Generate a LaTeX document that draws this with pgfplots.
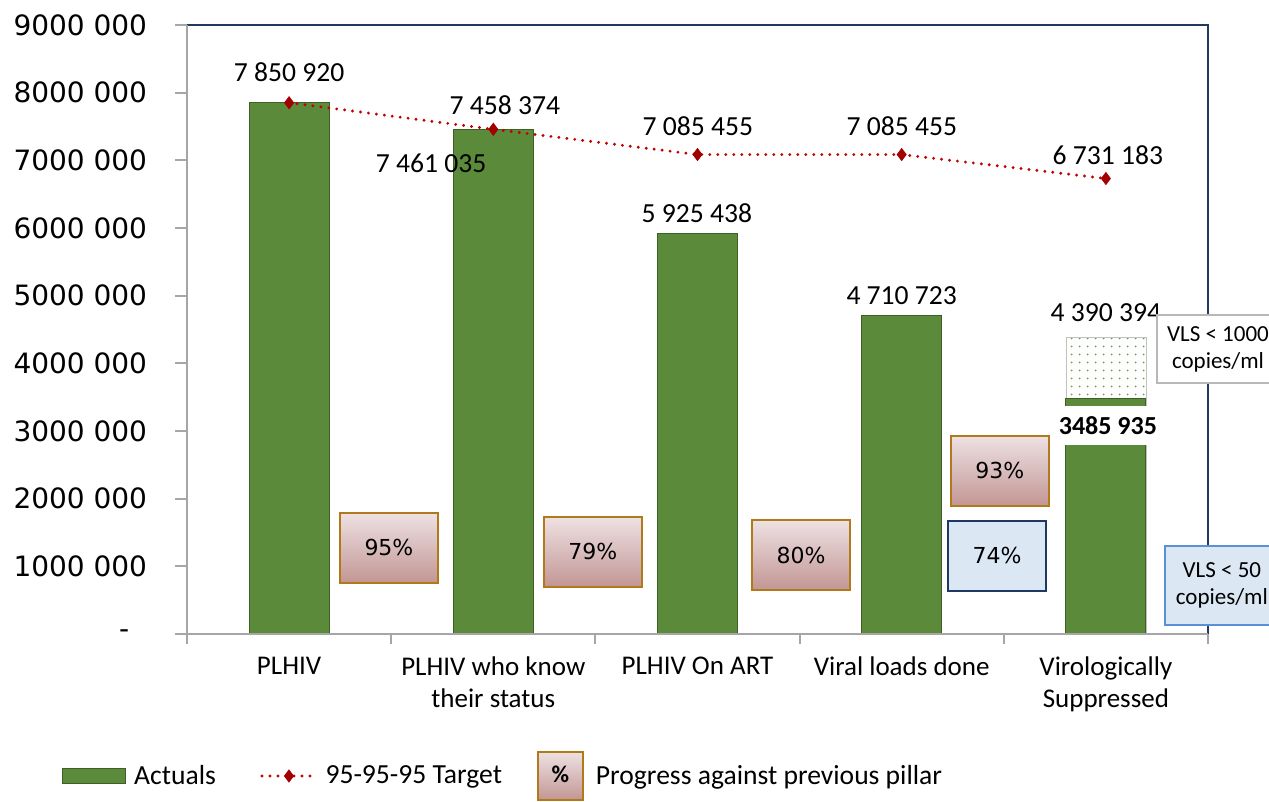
\documentclass[border=0pt]{standalone}
\usepackage{fontspec}
\setmainfont{Carlito}
\newfontfamily\dejavu{DejaVu Sans}
\usepackage{pgfplots}
\pgfplotsset{compat=1.18}
\usetikzlibrary{patterns.meta}

\definecolor{bargreen}{RGB}{92,138,59}
\definecolor{bardark}{RGB}{62,96,38}
\definecolor{dotgreen}{RGB}{106,160,70}
\definecolor{tgtred}{RGB}{192,0,0}
\definecolor{frameblue}{RGB}{31,56,100}
\definecolor{axgray}{RGB}{166,166,166}
\definecolor{boxgold}{RGB}{176,122,26}
\definecolor{boxtop}{RGB}{238,225,227}
\definecolor{boxbot}{RGB}{194,150,148}
\definecolor{lblue}{RGB}{220,231,244}
\definecolor{navyedge}{RGB}{32,56,100}
\definecolor{vlsblue}{RGB}{91,143,214}

\tikzset{
  pct/.style={draw=boxgold, line width=1pt, top color=boxtop, bottom color=boxbot,
    minimum width=49pt, minimum height=35pt, inner sep=0pt,
    font=\dejavu\fontsize{11}{13}\selectfont},
  pctblue/.style={draw=navyedge, line width=1pt, fill=lblue,
    minimum width=49pt, minimum height=35pt, inner sep=0pt,
    font=\dejavu\fontsize{11}{13}\selectfont},
  lab/.style={font=\fontsize{13.8}{16}\selectfont, inner sep=0pt},
  vls/.style={line width=1pt, align=center, inner sep=0pt,
    font=\fontsize{11.5}{13.5}\selectfont},
  spacer/.style={draw=none, fill=none},
}

\begin{document}
\begin{tikzpicture}
\begin{axis}[
    at={(0,0)}, anchor=south west,
    scale only axis, width=510.5pt, height=304.5pt,
    xmin=-0.5, xmax=4.5, ymin=0, ymax=9000000,
    clip=false,
    axis line style={draw=none},
    xtick={0,...,4},
    xticklabels={PLHIV, {PLHIV who know\\their status}, PLHIV On ART,
      Viral loads done, {Virologically\\Suppressed}},
    minor xtick={-0.5,0.5,...,4.5},
    ytick={0,1000000,...,9000000},
    yticklabels={-\hphantom{0}, 1000 000, 2000 000, 3000 000, 4000 000,
      5000 000, 6000 000, 7000 000, 8000 000, 9000 000},
    scaled y ticks=false,
    tick align=outside, xtick pos=bottom, ytick pos=left,
    major tick length=6pt, minor tick length=5pt,
    tick style={axgray, line width=1pt},
    major x tick style={draw=none},
    yticklabel style={font=\dejavu\fontsize{14}{16}\selectfont, xshift=-10.4pt},
    xticklabel style={align=center, font=\fontsize{13.5}{16}\selectfont, yshift=-2pt},
    legend columns=3,
    legend style={at={(-0.1224,-0.2332)}, anchor=west, draw=none, fill=none,
      inner sep=0pt, font=\fontsize{13.8}{16}\selectfont, nodes={inner sep=4pt}},
  ]
  % virologically suppressed < 1000 copies/ml (dotted)
  \addplot[ybar, bar width=40pt, bar shift=0pt, draw=axgray!70,
    pattern={Dots[distance=4pt, radius=0.55pt]}, pattern color=dotgreen, forget plot]
    coordinates {(4,4390394)};
  \addplot[ybar, bar width=40pt, bar shift=0pt, fill=bargreen, draw=bardark, line width=0.5pt,
    legend image code/.code={
      \path[fill=bargreen, draw=bardark, line width=0.4pt] (0pt,-3.75pt) rectangle (31.5pt,3.75pt);}]
    coordinates {(0,7850920) (1,7461035) (2,5925438) (3,4710723) (4,3485935)};
  \addlegendentry{Actuals}
  \addplot[tgtred, line width=1.6pt, line cap=round, dash pattern=on 0pt off 4pt,
    mark=diamond*, mark size=3pt,
    mark options={solid, fill=tgtred!85!black, draw=tgtred!85!black, line width=0.4pt},
    legend image code/.code={
      \path[spacer] (0pt,-1pt) rectangle (19pt,1pt);
      \draw[mark repeat=2, mark phase=2] plot coordinates {(19pt,0pt) (32.5pt,0pt) (46pt,0pt)};}]
    coordinates {(0,7850920) (1,7458374) (2,7085455) (3,7085455) (4,6731183)};
  \addlegendentry{95-95-95 Target}
  \addlegendimage{legend image code/.code={
      \path[spacer] (0pt,-1pt) rectangle (39pt,1pt);
      \node[draw=boxgold, line width=1pt, top color=boxtop, bottom color=boxbot,
        minimum width=22.5pt, minimum height=24pt, inner sep=0pt, anchor=west,
        font=\bfseries\fontsize{12}{14}\selectfont] at (13.5pt,0pt) {\%};}}
  \addlegendentry{Progress against previous pillar}

  % frame
  \draw[frameblue, line width=1pt] (rel axis cs:0,1) -- (rel axis cs:1,1) -- (rel axis cs:1,0);
  \draw[axgray, line width=1pt] (rel axis cs:0,1) -- (rel axis cs:0,0) -- (rel axis cs:1,0);

  % value labels
  \node[lab] at (axis cs:0,8305000) {7 850 920};
  \node[lab] at (axis cs:1.057,7818000) {7 458 374};
  \node[lab] at (axis cs:0.695,6960000) {7 461 035};
  \node[lab] at (axis cs:2.002,7507000) {7 085 455};
  \node[lab] at (axis cs:3.001,7507000) {7 085 455};
  \node[lab] at (axis cs:4.01,7079000) {6 731 183};
  \node[lab] at (axis cs:1.997,6222000) {5 925 438};
  \node[lab] at (axis cs:3.0,4995000) {4 710 723};
  \node[lab] at (axis cs:4.0,4744000) {4 390 394};
  \node[fill=white, minimum width=50pt, minimum height=19.5pt, inner sep=0pt,
    font=\bfseries\fontsize{13}{15}\selectfont] at (axis cs:4.01,3081000) {3485 935};

  % progress boxes
  \node[pct] at (axis cs:0.489,1271000) {95\%};
  \node[pct] at (axis cs:1.488,1212000) {79\%};
  \node[pct] at (axis cs:2.507,1167000) {80\%};
  \node[pct] at (axis cs:3.481,2409000) {93\%};
  \node[pctblue] at (axis cs:3.467,1153000) {74\%};

  % VLS notes
  \node[vls, draw=axgray!80, fill=white, minimum width=61.5pt, minimum height=34pt]
    at (axis cs:4.549,4212000) {VLS < 1000\\copies/ml};
  \node[vls, draw=vlsblue, fill=lblue, minimum width=56.5pt, minimum height=39.5pt]
    at (axis cs:4.568,717000) {VLS < 50\\copies/ml};
\end{axis}
\pgfresetboundingbox
\path[use as bounding box] (-93.5pt,-84pt) rectangle (541pt,317pt);
\end{tikzpicture}
\end{document}
